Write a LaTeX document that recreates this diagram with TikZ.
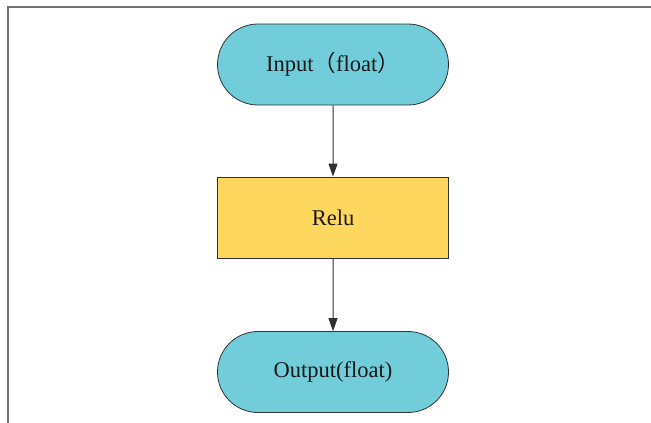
\documentclass[tikz,border=0pt]{standalone}
\usepackage{fontspec}
\setmainfont{Liberation Serif}
\newfontfamily\cjk{Noto Sans CJK SC}
\usetikzlibrary{arrows.meta,shapes.misc}
\definecolor{termfill}{HTML}{70CDD9}
\definecolor{opfill}{HTML}{FED75F}
\definecolor{edgec}{HTML}{303030}
\definecolor{framec}{HTML}{707070}
\begin{document}
\begin{tikzpicture}[x=1pt,y=-1pt,
  term/.style={rounded rectangle, draw=black!80, line width=0.8pt, fill=termfill,
    minimum width=231pt, minimum height=81pt, inner sep=0pt, text=black!90, font=\fontsize{22.5}{26}\selectfont},
  opbox/.style={rectangle, draw=black!80, line width=0.8pt, fill=opfill,
    minimum width=231pt, minimum height=81pt, inner sep=0pt, text=black!90, font=\fontsize{22.5}{26}\selectfont},
  flow/.style={draw=edgec, line width=1pt, -{Triangle[length=13pt,width=9pt]}}]
\useasboundingbox (0,0) rectangle (651,423);
\draw[framec, line width=1.5pt] (8,423) -- (8,7) -- (651,7);
\node[term] (in) at (333,64.5) {Input{\cjk （}float{\cjk ）}};
\node[opbox] (relu) at (333,217.5) {Relu};
\node[term] (out) at (333,372) {Output(float)};
\draw[flow] (in) -- (relu);
\draw[flow] (relu) -- (out);
\end{tikzpicture}
\end{document}
